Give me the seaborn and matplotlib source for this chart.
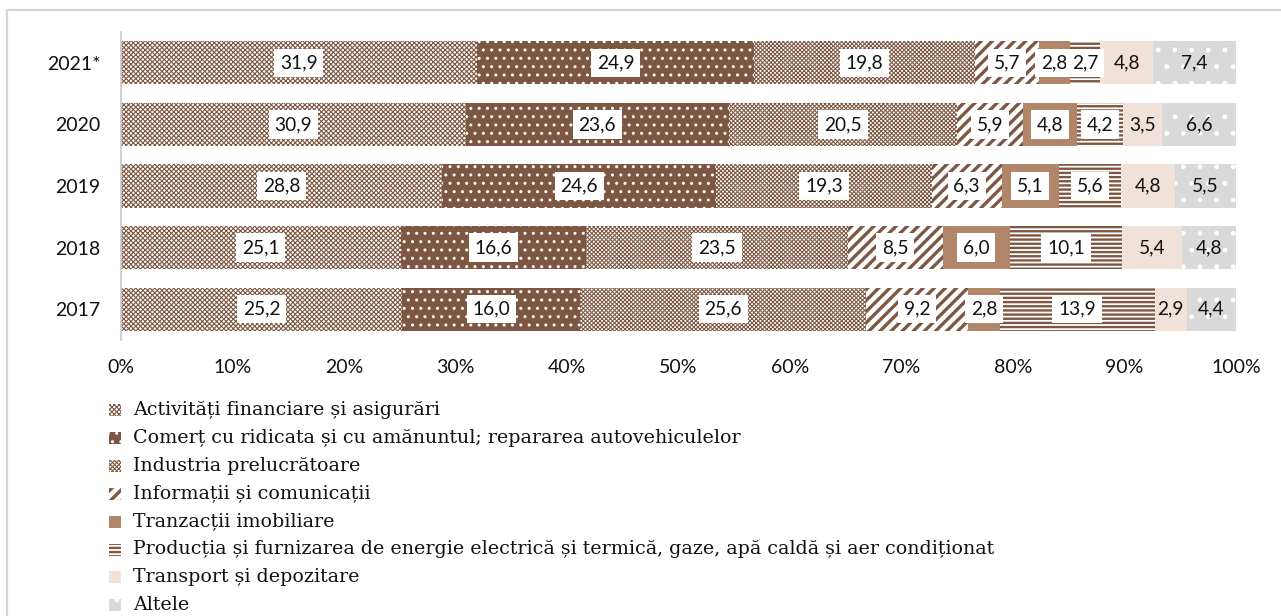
import numpy as np
import pandas as pd
import matplotlib
matplotlib.use("Agg")
import matplotlib.pyplot as plt
import seaborn as sns
from matplotlib.patches import Rectangle
from matplotlib.lines import Line2D

# ---- data (% of total) ----
years = ["2021*", "2020", "2019", "2018", "2017"]
sectors = [
    "Activități financiare și asigurări",
    "Comerț cu ridicata și cu amănuntul; repararea autovehiculelor",
    "Industria prelucrătoare",
    "Informații și comunicații",
    "Tranzacții imobiliare",
    "Producția și furnizarea de energie electrică și termică, gaze, apă caldă și aer condiționat",
    "Transport și depozitare",
    "Altele",
]
financiare = [31.9, 30.9, 28.8, 25.1, 25.2]
comert = [24.9, 23.6, 24.6, 16.6, 16.0]
industrie = [19.8, 20.5, 19.3, 23.5, 25.6]
informatii = [5.7, 5.9, 6.3, 8.5, 9.2]
imobiliare = [2.8, 4.8, 5.1, 6.0, 2.8]
energie = [2.7, 4.2, 5.6, 10.1, 13.9]
transport = [4.8, 3.5, 4.8, 5.4, 2.9]
altele = [7.4, 6.6, 5.5, 4.8, 4.4]
series = [financiare, comert, industrie, informatii, imobiliare, energie, transport, altele]

# ---- styles ----
BROWN = "#7d5742"
styles = [
    dict(face="white", hatch="xxxxxxx", hcol=BROWN, hlw=0.8, boxed=True),
    dict(face=BROWN, hatch="..", hcol="white", hlw=1.0, boxed=True),
    dict(face="white", hatch="xxxxxxxx", hcol=BROWN, hlw=0.75, boxed=True),
    dict(face="white", hatch="///", hcol=BROWN, hlw=2.4, boxed=True),
    dict(face="#b0856a", hatch=None, hcol="#b0856a", hlw=1.0, boxed=True),
    dict(face="white", hatch="----", hcol=BROWN, hlw=1.7, boxed=True),
    dict(face="#f0e1d9", hatch=None, hcol="#f0e1d9", hlw=1.0, boxed=False),
    dict(face="#d9d9d9", hatch=".", hcol="white", hlw=1.0, boxed=False),
]

sns.set_theme(style="white")
NUM_FONT = ["Lato", "DejaVu Sans"]
LEG_FONT = ["DejaVu Serif"]
plt.rcParams["font.family"] = NUM_FONT

W, H = 1281, 616
fig = plt.figure(figsize=(W / 100, H / 100), dpi=100)
ax = fig.add_axes([121 / W, 1 - 340 / H, 1115 / W, 308 / H])


def style_patch(p, st):
    p.set_facecolor(st["face"])
    p.set_edgecolor(st["hcol"])
    p.set_linewidth(0)
    if st["hatch"]:
        p.set_hatch(st["hatch"])
        if hasattr(p, "set_hatch_linewidth"):
            p.set_hatch_linewidth(st["hlw"])


values = np.array(series).T          # rows: years, cols: sectors
cum = np.cumsum(values, axis=1)
df = pd.DataFrame(cum, columns=sectors)
df["An"] = years

# stacked bars: draw cumulative totals from the right, each layer covering the previous one
for k in range(len(sectors) - 1, -1, -1):
    n0 = len(ax.patches)
    sns.barplot(data=df, x=sectors[k], y="An", order=years, orient="h",
                color=styles[k]["face"], saturation=1, width=0.7,
                errorbar=None, ax=ax)
    for p in ax.patches[n0:]:
        style_patch(p, styles[k])

# value labels
for i in range(len(years)):
    left = 0.0
    for k in range(len(sectors)):
        v = values[i, k]
        txt = f"{v:.1f}".replace(".", ",")
        kw = {}
        if styles[k]["boxed"]:
            kw["bbox"] = dict(boxstyle="square,pad=0.3", fc="white", ec="none")
        ax.text(left + v / 2, i, txt, ha="center", va="center",
                fontsize=13.8, color="#111111", zorder=5, **kw)
        left += v

# axes formatting
ax.set_xlim(0, 100)
ax.set_ylim(len(years) - 0.5, -0.5)
ax.set_xlabel("")
ax.set_ylabel("")
ax.set_xticks(np.arange(0, 101, 10))
ax.set_xticklabels([f"{t}%" for t in range(0, 101, 10)])
ax.tick_params(axis="x", length=0, pad=14, labelsize=14, labelcolor="#111111")
ax.tick_params(axis="y", which="major", length=0, pad=15, labelsize=14, labelcolor="#111111")
ax.set_yticks(np.arange(-0.5, len(years), 1.0), minor=True)
ax.tick_params(axis="y", which="minor", length=5, width=1.2, color="#c8c8c8", direction="out")
for s in ["top", "right", "bottom"]:
    ax.spines[s].set_visible(False)
ax.spines["left"].set_color("#c8c8c8")
ax.spines["left"].set_linewidth(1.2)
ax.grid(False)

# legend
ys = [410, 437.9, 465.8, 493.7, 521.6, 549.5, 577.4, 605.3]
for k, (name, y) in enumerate(zip(sectors, ys)):
    r = Rectangle((109 / W, 1 - (y + 6) / H), 12 / W, 12 / H, transform=fig.transFigure)
    style_patch(r, styles[k])
    fig.add_artist(r)
    fig.text(133 / W, 1 - y / H, name, fontsize=13.7, family=LEG_FONT,
             va="center", ha="left", color="#111111")

# outer frame
frame_kw = dict(color="#d6d6d6", linewidth=1.6, transform=fig.transFigure)
fig.add_artist(Line2D([7 / W, 1], [1 - 10 / H, 1 - 10 / H], **frame_kw))
fig.add_artist(Line2D([7 / W, 7 / W], [0, 1 - 10 / H], **frame_kw))

fig.savefig("out.png", dpi=100)
